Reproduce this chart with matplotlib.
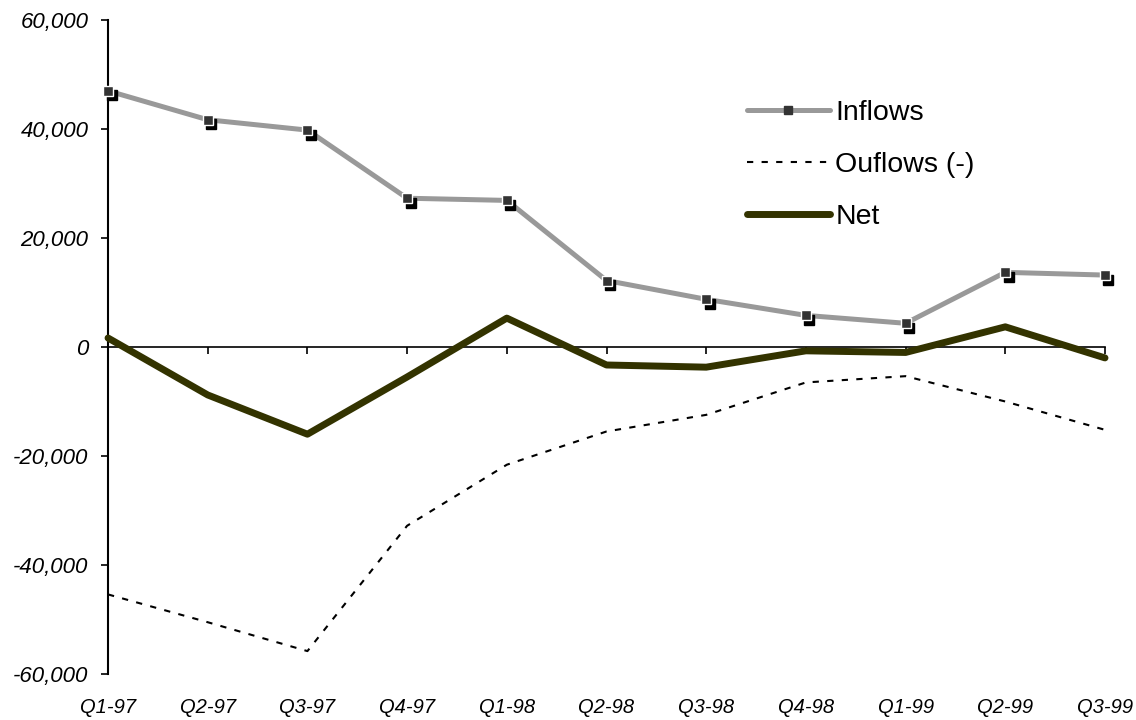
"""Quarterly flows: inflows, outflows and net, Q1-97 to Q3-99."""

import matplotlib
matplotlib.use("Agg")
import matplotlib.pyplot as plt
from matplotlib.transforms import offset_copy, blended_transform_factory

plt.rcParams["font.family"] = ["Liberation Sans", "DejaVu Sans"]

quarters = ["Q1-97", "Q2-97", "Q3-97", "Q4-97", "Q1-98", "Q2-98",
            "Q3-98", "Q4-98", "Q1-99", "Q2-99", "Q3-99"]
inflows = [47000, 41700, 39800, 27300, 26900, 12200, 8750, 5800, 4350, 13700, 13200]
outflows = [-45400, -50500, -55800, -32800, -21600, -15500, -12450, -6500, -5350, -10000, -15200]
net = [1650, -8800, -16000, -5500, 5300, -3300, -3700, -700, -1000, 3700, -2000]
yticks = [-60000, -40000, -20000, 0, 20000, 40000, 60000]

x = list(range(len(quarters)))

fig = plt.figure(figsize=(11.36, 7.2), dpi=100)
ax = fig.add_axes([0.0951, 0.0639, 0.8776, 0.9083])

# inflows: grey line, dark square markers with a black drop shadow
ax.plot(x, inflows, color="#999999", lw=3.6, zorder=3, clip_on=False,
        label="Inflows", marker="s", ms=6, mfc="#333333", mec="#333333")
shadow = offset_copy(ax.transData, fig=fig, x=3.5, y=-4.5, units="dots")
ax.plot(x, inflows, ls="none", marker="s", ms=6.5, mfc="black", mec="black",
        transform=shadow, zorder=4, clip_on=False)
ax.plot(x, inflows, ls="none", marker="s", ms=6.5, mfc="#333333", mec="white",
        mew=1.0, zorder=5, clip_on=False)

ax.plot(x, outflows, color="black", lw=1.5, ls=(0, (3, 4)), zorder=2,
        label="Ouflows (-)")
ax.plot(x, net, color="#333300", lw=5, zorder=3, solid_capstyle="round",
        clip_on=False, label="Net")

ax.set_xlim(0, len(quarters) - 1)
ax.set_ylim(yticks[0], yticks[-1])
ax.set_yticks(yticks)
ax.set_yticklabels([f"{v:,}" for v in yticks], fontstyle="italic", fontsize=16)

for side in ("top", "right"):
    ax.spines[side].set_visible(False)
ax.spines["bottom"].set_position(("data", 0))
ax.spines["bottom"].set_linewidth(1.2)
ax.spines["left"].set_linewidth(1.5)

ax.set_xticks(x)
ax.tick_params(axis="x", direction="out", length=5, width=1.2, labelbottom=False)
ax.tick_params(axis="y", direction="out", length=5, width=1.2, pad=9)

# category labels sit below the plot, not on the zero line
trans = blended_transform_factory(ax.transData, ax.transAxes)
for i, q in enumerate(quarters):
    ax.text(i, -0.052, q, transform=trans, ha="center", va="center",
            fontsize=14.5, fontstyle="italic")

leg = fig.legend(loc="upper left", bbox_to_anchor=(0.6576, 0.861), frameon=False,
                 fontsize=20.5, handlelength=2.9, handletextpad=0.2,
                 labelspacing=0.91, borderpad=0, borderaxespad=0)
for h in leg.get_lines():
    h.set_solid_capstyle("round")

fig.savefig("out.png", dpi=100)
